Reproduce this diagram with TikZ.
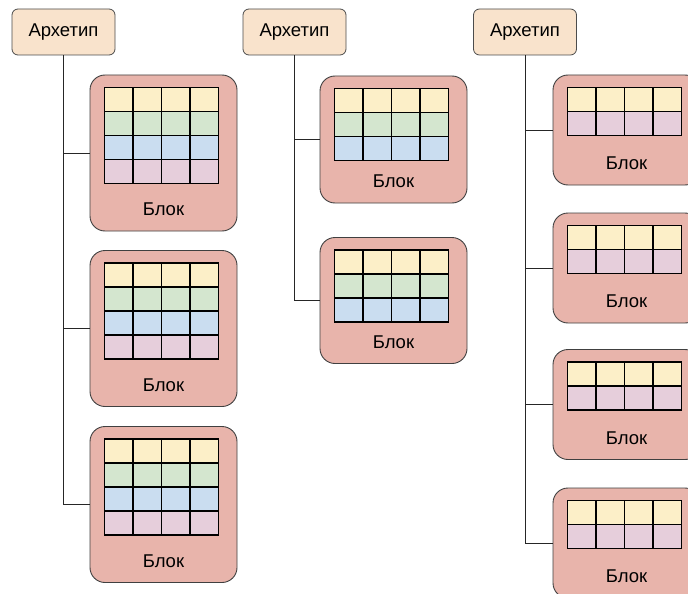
\documentclass[tikz,border=0pt]{standalone}
\usepackage{fontspec}
\setmainfont{Liberation Sans}
\usetikzlibrary{calc}
\definecolor{blk}{HTML}{E8B4AB}
\definecolor{arch}{HTML}{F9E3CC}
\definecolor{cy}{HTML}{FCEFC8}
\definecolor{cg}{HTML}{D4E6CF}
\definecolor{cb}{HTML}{CADDF0}
\definecolor{cp}{HTML}{E6CEDB}
\tikzset{
  archbox/.style={draw=black!70, fill=arch, rounded corners=6pt, minimum width=103pt, minimum height=46pt, inner sep=0pt, line width=0.8pt, font=\fontsize{18.5}{22}\selectfont},
  blkbox/.style={draw=black!75, fill=blk, rounded corners=15pt, minimum width=147pt, inner sep=0pt, line width=0.9pt},
  blktext/.style={font=\fontsize{18.5}{22}\selectfont, inner sep=0pt},
  conn/.style={draw=black!85, line width=0.9pt},
  cell/.style={draw=black, line width=1.2pt}
}
\newcommand\mygrid[2]{%
  \foreach \c [count=\i from 0] in {#2} {
    \foreach \j in {0,1,2,3} {
      \draw[cell, fill=\c] ($(#1.north west)+(15+\j*28.5,13+\i*24)$) rectangle ++(28.5,24);
    }
  }
}
\begin{document}
\begin{tikzpicture}[x=1pt,y=-1pt]
\useasboundingbox (0,0) rectangle (688,594);
\fill[white] (0,0) rectangle (688,594);
% archetypes
\node[archbox] (a1) at (63.5,32) {Архетип};
\node[archbox] (a2) at (294.5,32) {Архетип};
\node[archbox] (a3) at (525,32) {Архетип};
% left column blocks
\node[blkbox, minimum height=156pt] (b11) at (163.5,153) {};
\node[blkbox, minimum height=156pt] (b12) at (163.5,328.5) {};
\node[blkbox, minimum height=156pt] (b13) at (163.5,504.5) {};
% middle column
\node[blkbox, minimum height=127pt] (b21) at (393.5,139.5) {};
\node[blkbox, minimum height=126pt] (b22) at (393.5,300.5) {};
% right column
\node[blkbox, minimum height=110pt] (b31) at (626.5,130) {};
\node[blkbox, minimum height=110pt] (b32) at (626.5,268) {};
\node[blkbox, minimum height=110pt] (b33) at (626.5,404.5) {};
\node[blkbox, minimum height=110pt] (b34) at (626.5,543) {};
% grids
\mygrid{b11}{cy,cg,cb,cp}
\mygrid{b12}{cy,cg,cb,cp}
\mygrid{b13}{cy,cg,cb,cp}
\mygrid{b21}{cy,cg,cb}
\mygrid{b22}{cy,cg,cb}
\mygrid{b31}{cy,cp}
\mygrid{b32}{cy,cp}
\mygrid{b33}{cy,cp}
\mygrid{b34}{cy,cp}
% labels
\foreach \b in {b11,b12,b13,b21,b22,b31,b32,b33,b34} {
  \node[blktext] (\b t) at ($(\b.south)+(0,-22)$) {Блок};
}
% connectors
\foreach \b in {b11,b12,b13} { \draw[conn] (a1.south) |- (\b.west); }
\foreach \b in {b21,b22} { \draw[conn] (a2.south) |- (\b.west); }
\foreach \b in {b31,b32,b33,b34} { \draw[conn] (a3.south) |- (\b.west); }
\end{tikzpicture}
\end{document}
